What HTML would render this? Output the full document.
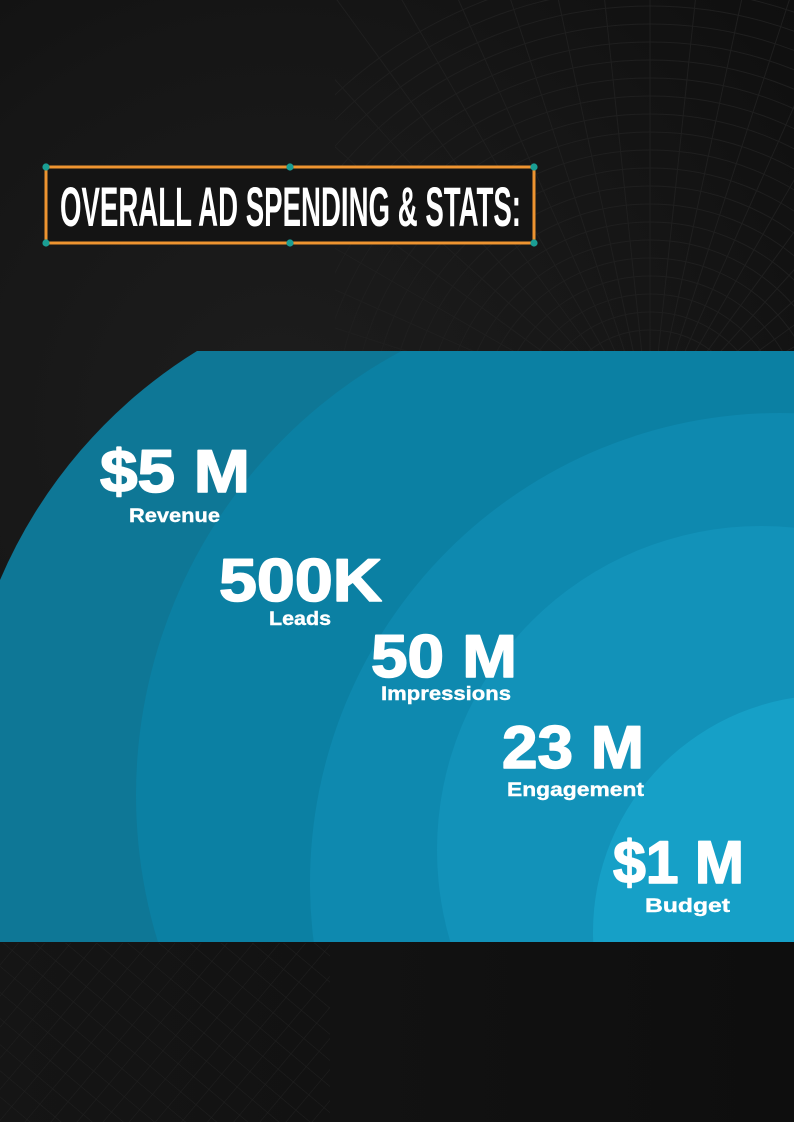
<!DOCTYPE html>
<html>
<head>
<meta charset="utf-8">
<style>
  html,body{margin:0;padding:0;background:#151515;width:794px;height:1122px;overflow:hidden;}
  svg{display:block;position:absolute;left:0;top:0;}
</style>
</head>
<body>
<svg width="794" height="1122" viewBox="0 0 794 1122" xmlns="http://www.w3.org/2000/svg">
  <defs>
    <radialGradient id="bg" cx="280" cy="420" r="700" gradientUnits="userSpaceOnUse">
      <stop offset="0" stop-color="#1d1d1d"/>
      <stop offset="0.55" stop-color="#161616"/>
      <stop offset="1" stop-color="#0e0e0e"/>
    </radialGradient>
    <linearGradient id="bot" x1="0" y1="0" x2="1" y2="0">
      <stop offset="0" stop-color="#151515"/>
      <stop offset="1" stop-color="#0e0e0e"/>
    </linearGradient>
    <clipPath id="topMesh">
      <path d="M335,0 L794,0 L794,351 L335,351 Z"/>
    </clipPath>
    <clipPath id="botMesh">
      <rect x="0" y="943" width="330" height="179"/>
    </clipPath>
    <clipPath id="band">
      <rect x="0" y="351" width="794" height="591"/>
    </clipPath>
    <pattern id="diam" width="20" height="20" patternUnits="userSpaceOnUse" patternTransform="rotate(40)">
      <path d="M0,0 L20,0 M0,0 L0,20" stroke="#202020" stroke-width="1" fill="none"/>
    </pattern>
  </defs>

  <!-- background -->
  <rect x="0" y="0" width="794" height="1122" fill="url(#bg)"/>
  <rect x="0" y="942" width="794" height="180" fill="url(#bot)"/>

  <!-- top-right mesh -->
  <g clip-path="url(#topMesh)" stroke="#1f1f1f" stroke-width="1" fill="none">
    <circle cx="650" cy="430" r="100"/>
    <circle cx="650" cy="430" r="118"/>
    <circle cx="650" cy="430" r="136"/>
    <circle cx="650" cy="430" r="154"/>
    <circle cx="650" cy="430" r="172"/>
    <circle cx="650" cy="430" r="190"/>
    <circle cx="650" cy="430" r="208"/>
    <circle cx="650" cy="430" r="226"/>
    <circle cx="650" cy="430" r="244"/>
    <circle cx="650" cy="430" r="262"/>
    <circle cx="650" cy="430" r="280"/>
    <circle cx="650" cy="430" r="298"/>
    <circle cx="650" cy="430" r="316"/>
    <circle cx="650" cy="430" r="334"/>
    <circle cx="650" cy="430" r="352"/>
    <circle cx="650" cy="430" r="370"/>
    <circle cx="650" cy="430" r="388"/>
    <circle cx="650" cy="430" r="406"/>
    <circle cx="650" cy="430" r="424"/>
    <circle cx="650" cy="430" r="442"/>
    <circle cx="650" cy="430" r="460"/>
    <g transform="translate(650,430)">
      <path d="M0,0 L-600,0 M0,0 L-597,-63 M0,0 L-587,-125 M0,0 L-571,-185 M0,0 L-548,-244 M0,0 L-520,-300 M0,0 L-485,-353 M0,0 L-446,-401 M0,0 L-401,-446 M0,0 L-353,-485 M0,0 L-300,-520 M0,0 L-244,-548 M0,0 L-185,-571 M0,0 L-125,-587 M0,0 L-63,-597 M0,0 L0,-600 M0,0 L63,-597 M0,0 L125,-587 M0,0 L185,-571 M0,0 L244,-548 M0,0 L300,-520 M0,0 L353,-485 M0,0 L401,-446 M0,0 L446,-401 M0,0 L485,-353 M0,0 L520,-300 M0,0 L548,-244 M0,0 L571,-185"/>
    </g>
  </g>

  <!-- bottom-left mesh -->
  <g clip-path="url(#botMesh)">
    <rect x="0" y="943" width="330" height="179" fill="url(#diam)"/>
  </g>

  <!-- blue band with concentric arcs -->
  <path d="M197,351 L794,351 L794,942 L0,942 L0,580 A500,500 0 0,1 197,351 Z" fill="#0e7796"/>
  <g clip-path="url(#band)">
    <circle cx="640" cy="795" r="504" fill="#0b80a3"/>
    <circle cx="780" cy="883" r="470" fill="#0e89af"/>
    <circle cx="761" cy="850" r="324" fill="#1292b9"/>
    <circle cx="830" cy="932" r="237" fill="#16a0c7"/>
  </g>

  <!-- title box -->
  <rect x="46" y="167" width="488" height="76" fill="#141414" stroke="#ee9430" stroke-width="3"/>
  <g fill="#1a9e94">
    <circle cx="46" cy="167" r="3.6"/>
    <circle cx="290" cy="167" r="3.6"/>
    <circle cx="534" cy="167" r="3.6"/>
    <circle cx="46" cy="243" r="3.6"/>
    <circle cx="290" cy="243" r="3.6"/>
    <circle cx="534" cy="243" r="3.6"/>
  </g>
  <text x="60" y="226" font-family="'Liberation Sans Narrow','Liberation Sans',sans-serif" font-weight="bold" font-size="55.5" fill="#ffffff" textLength="461" lengthAdjust="spacingAndGlyphs">OVERALL AD SPENDING &amp; STATS:</text>

  <!-- stats -->
  <g font-family="'Liberation Sans',sans-serif" font-weight="bold" fill="#ffffff" stroke="#ffffff" stroke-width="1.6" stroke-linejoin="round">
    <text x="100" y="492" font-size="60" textLength="150" lengthAdjust="spacingAndGlyphs">$5 M</text>
    <text x="219" y="601" font-size="60" textLength="163" lengthAdjust="spacingAndGlyphs">500K</text>
    <text x="371" y="677" font-size="60" textLength="146" lengthAdjust="spacingAndGlyphs">50 M</text>
    <text x="502" y="768" font-size="60" textLength="142" lengthAdjust="spacingAndGlyphs">23 M</text>
    <text x="613" y="883" font-size="60" textLength="131" lengthAdjust="spacingAndGlyphs">$1 M</text>
  </g>
  <g font-family="'Liberation Sans',sans-serif" font-weight="bold" fill="#ffffff" stroke="#ffffff" stroke-width="0.4">
    <text x="129" y="522" font-size="19.5" textLength="91" lengthAdjust="spacingAndGlyphs">Revenue</text>
    <text x="269" y="625" font-size="19.5" textLength="62" lengthAdjust="spacingAndGlyphs">Leads</text>
    <text x="381" y="700" font-size="19.5" textLength="130" lengthAdjust="spacingAndGlyphs">Impressions</text>
    <text x="507" y="796" font-size="19.5" textLength="137" lengthAdjust="spacingAndGlyphs">Engagement</text>
    <text x="645" y="912" font-size="19.5" textLength="85" lengthAdjust="spacingAndGlyphs">Budget</text>
  </g>
</svg>
</body>
</html>
